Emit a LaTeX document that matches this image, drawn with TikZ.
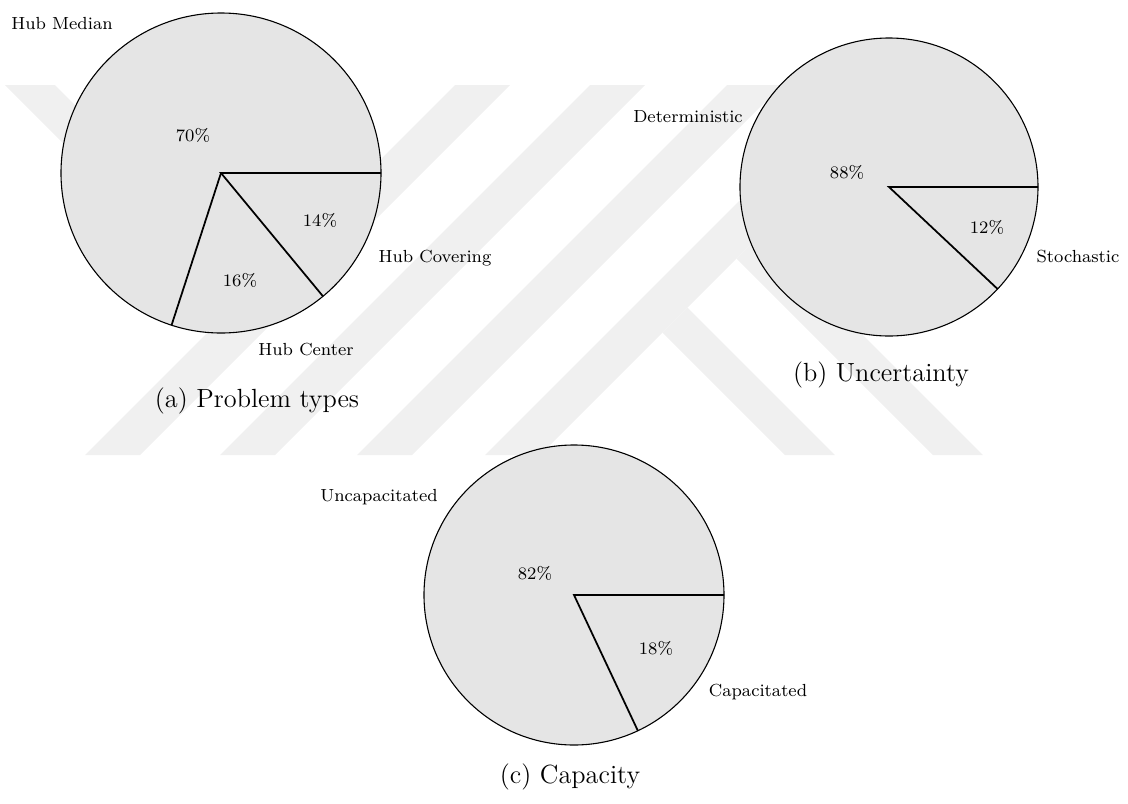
\documentclass[tikz,border=0pt]{standalone}
\usepackage{tikz}
\definecolor{slicegray}{gray}{0.9}
\definecolor{markgray}{gray}{0.94}

\begin{document}
\begin{tikzpicture}[x=0.4566pt, y=-0.4566pt,
	pie/.style={fill=slicegray, draw=black, line width=0.5pt},
	cut/.style={draw=black, line width=0.8pt},
	pct/.style={font=\footnotesize},
	lbl/.style={font=\footnotesize},
	capt/.style={font=\large}]
	\useasboundingbox (0,0) rectangle (1128,804);

	% watermark in the background
	\fill[markgray] (5,85) -- (55,85) -- (270,300) -- (240,320) -- cycle;
	\foreach \xa in {85,220,357,485}
		\fill[markgray] (\xa,455) -- (\xa+55,455) -- (\xa+425,85) -- (\xa+370,85) -- cycle;
	\fill[markgray] (785,455) -- (835,455) -- (687.5,307.5) -- (662.5,332.5) -- cycle;
	\fill[markgray] (933,455) -- (983,455) -- (761.5,233.5) -- (736.5,258.5) -- cycle;

	% (a) problem types
	\coordinate (ca) at (221,173);
	\coordinate (ra0) at ([shift={(ca)}]0:160);
	\coordinate (ra1) at ([shift={(ca)}]50.4:160);
	\coordinate (ra2) at ([shift={(ca)}]108:160);
	\path[pie] (ca) circle[radius=160];
	\draw[cut] (ra0) -- (ca) -- (ra1);
	\draw[cut] (ca) -- (ra2);
	\node[pct] (pa70) at (193,135) {70\%};
	\node[pct] (pa14) at (320,220) {14\%};
	\node[pct] (pa16) at (240,280) {16\%};
	\node[lbl] (median) at (62,24) {Hub Median};
	\node[lbl] (covering) at (435,258) {Hub Covering};
	\node[lbl] (center) at (306,350) {Hub Center};
	\node[capt] (capa) at (257,401) {(a) Problem types};

	% (b) uncertainty
	\coordinate (cb) at (889,187);
	\coordinate (rb0) at ([shift={(cb)}]0:149);
	\coordinate (rb1) at ([shift={(cb)}]43.2:149);
	\path[pie] (cb) circle[radius=149];
	\draw[cut] (rb0) -- (cb) -- (rb1);
	\node[pct] (pb88) at (847,172) {88\%};
	\node[pct] (pb12) at (987,227) {12\%};
	\node[lbl] (determ) at (688,117) {Deterministic};
	\node[lbl] (stoch) at (1078,257) {Stochastic};
	\node[capt] (capb) at (881,375) {(b) Uncertainty};

	% (c) capacity
	\coordinate (cc) at (574,595);
	\coordinate (rc0) at ([shift={(cc)}]0:150);
	\coordinate (rc1) at ([shift={(cc)}]64.8:150);
	\path[pie] (cc) circle[radius=150];
	\draw[cut] (rc0) -- (cc) -- (rc1);
	\node[pct] (pc82) at (535,573) {82\%};
	\node[pct] (pc18) at (656,648) {18\%};
	\node[lbl] (uncap) at (379,497) {Uncapacitated};
	\node[lbl] (cap) at (758,692) {Capacitated};
	\node[capt] (capc) at (570,777) {(c) Capacity};
\end{tikzpicture}
\end{document}
